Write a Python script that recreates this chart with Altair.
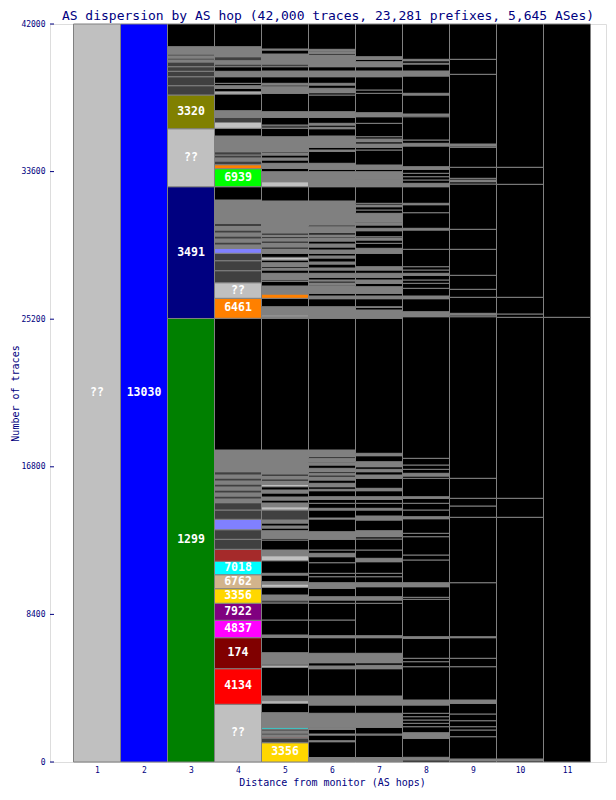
import altair as alt
import pandas as pd

TITLE = "AS dispersion by AS hop (42,000 traces, 23,281 prefixes, 5,645 ASes)"
HOPS = list(range(1, 12))
Y_TICKS = [0, 8400, 16800, 25200, 33600, 42000]

# Each column: segment kinds (bottom -> top) and cumulative top (number of traces)
# kinds: AS number / "??" unknown / "g" small ASes / "d" small ASes (dark) /
#        "s", "b" unlabeled ASes / "-" traces that ended
c1_kind = ["??"]
c1_top = [42000]
c2_kind = ["13030"]
c2_top = [42000]
c3_kind = ["1299", "3491", "??", "3320", "d", "d", "d", "d", "d", "g", "d", "g", "d", "g", "-"]
c3_top = [25240, 32740, 36040, 37960, 38490, 39000, 39310, 39570, 39840, 39950, 40065, 40180, 40290, 40710, 42000]
c4_kind = ["??", "4134", "174", "4837", "7922", "3356", "6762", "7018", "b", "d", "d", "s", "d", "d",
           "g", "d", "g", "d", "g", "d", "g", "d", "g", "d", "g", "-",
           "6461", "??", "d", "d", "d", "s", "g", "d", "g", "d", "g", "d", "g", "d", "g", "-",
           "6939", "6461", "d", "g", "d", "d", "g", "-", "??", "d", "g", "-", "??", "-", "g", "-", "-",
           "g", "-", "d", "g", "d", "g", "-"]
c4_top = [3284, 5310, 7074, 8064, 9032, 9863, 10659, 11422, 12105, 12674, 13220, 13812, 14341, 14757,
          14967, 15138, 15309, 15480, 15650, 15821, 15992, 16162, 16333, 16521, 17756, 25251,
          26389, 27277, 27960, 28529, 28950, 29235, 29422, 29593, 29764, 29935, 30105, 30276, 30475, 30657, 31983, 32740,
          33765, 33993, 34203, 34374, 34544, 34732, 35626, 36064, 36394, 36690, 37066, 38016, 38147, 38340, 38489, 38624, 39000,
          39308, 39570, 39723, 39911, 40138, 40708, 42000]
c5_kind = ["3356", "d", "b", "g", "d", "g", "d", "7018", "g", "-", "??", "g", "-", "??", "d", "g", "-", "g", "-", "-",
           "d", "g", "-", "??", "g", "-", "g", "-", "??", "g", "-", "-", "g", "-", "g", "-", "g", "d", "??", "g",
           "-", "g", "-", "g", "-", "??", "g", "-", "g", "-", "g", "-",
           "g", "??", "g", "-", "6461", "g", "-", "d", "g", "-", "g", "-", "g", "-", "??", "-", "g", "-", "g", "-",
           "g", "-", "g", "-", "g", "-", "??", "g", "-", "g", "-", "g", "-", "g", "-", "g", "-", "d", "-", "g",
           "-", "g", "-", "g", "-", "g", "-", "d", "g", "-", "g", "-"]
c5_top = [1098, 1366, 1423, 1537, 1650, 1764, 1878, 1975, 2806, 3341, 3489, 3756, 5389, 5503, 5577, 6220, 7097, 7228, 8081, 9049,
          9219, 9504, 9942, 10130, 10261, 10642, 10739, 11456, 11741, 12065, 12634, 12731, 13163, 13317, 13431, 13601, 13772, 14341, 14529, 14740,
          14910, 15081, 15309, 15480, 15667, 15804, 15992, 16106, 16276, 16390, 17756, 25251,
          25342, 25439, 25911, 26389, 26634, 27089, 27357, 27470, 27812, 28000, 28085, 28188, 28415, 28569, 28722, 28950, 29195, 29309, 29536, 29650,
          29804, 29895, 29992, 30105, 31927, 32740, 33025, 33594, 33787, 34072, 34260, 34374, 34544, 34658, 34732, 35586, 36064, 36252, 36690, 37010,
          38056, 38431, 38528, 38624, 39000, 39325, 39570, 39723, 40292, 40520, 40577, 42000]
c6_kind = ["g", "-", "g", "-", "??", "-", "g", "-", "g", "-", "g", "-", "g", "-", "g", "-", "g", "-", "-", "-",
           "g", "-", "g", "-", "-", "-", "-", "g", "-", "-", "g", "-", "??", "-", "g", "-", "-", "g", "-", "g",
           "-", "g", "-", "g", "-", "g", "-", "g", "-", "g", "-", "g", "-", "g", "-",
           "g", "-", "g", "-", "g", "-", "g", "-", "g", "-", "g", "-", "g", "-", "g", "-", "g", "-", "g", "-",
           "g", "-", "g", "-", "g", "-", "g", "-", "g", "-", "g", "-", "g", "-", "g", "-", "g", "-", "g", "-",
           "g", "-", "g", "-", "-", "g", "-", "g", "-", "g", "-", "g", "-", "g", "-", "g", "-"]
c6_top = [256, 1155, 1212, 1537, 1593, 1850, 1906, 1975, 2772, 3244, 3756, 5310, 5463, 5651, 6186, 7074, 7188, 8081, 9032, 9219,
          9407, 9885, 10204, 10545, 10739, 11342, 11684, 11877, 12065, 12674, 13107, 13829, 13886, 14341, 14438, 14723, 14950, 15098, 15440, 15519,
          15667, 15861, 16049, 16219, 16333, 16430, 16521, 16714, 16902, 17033, 17090, 17283, 17374, 17756, 25251,
          25911, 26367, 26520, 26674, 27089, 27146, 27260, 27374, 27431, 27584, 27812, 28000, 28114, 28341, 28455, 28683, 28797, 28950, 29138, 29309,
          29479, 29650, 29821, 29895, 29992, 30122, 30464, 30561, 31927, 32740, 33594, 33731, 34072, 34755, 34829, 34983, 35626, 36041, 36120, 36252,
          36348, 36690, 37010, 37959, 38090, 38340, 38528, 38624, 39000, 39325, 39570, 40235, 40332, 40424, 40480, 40559, 42000]
c7_kind = ["g", "-", "d", "-", "g", "-", "g", "-", "g", "-", "g", "-", "g", "-", "-", "g", "-", "g", "-", "-",
           "-", "g", "-", "-", "-", "g", "-", "g", "-", "g", "-", "-", "g", "-", "g", "-", "g", "-", "g", "-",
           "g", "-", "g", "-", "g", "-", "g", "-", "g", "-", "g", "-", "g", "-", "g", "-", "g", "-", "g", "-",
           "-", "g", "-", "-", "g", "-", "g", "-", "g", "-", "-", "g", "-", "-", "g", "-", "g", "-", "g", "-",
           "-", "g", "-", "g", "-", "-", "-", "g", "-", "-", "-", "g", "-", "g", "-", "g", "-"]
c7_top = [256, 1537, 1593, 1975, 2772, 3244, 3756, 5310, 5503, 5651, 6186, 7074, 7188, 9032, 9219, 9407, 9976, 10204, 10545, 10739,
          11399, 11592, 12065, 12691, 12822, 13163, 13772, 14000, 14341, 14438, 14723, 14950, 15098, 15440, 15576, 16145, 16333, 16521, 16657, 16806,
          17090, 17432, 17568, 25251, 25723, 25877, 25911, 26367, 26520, 26674, 27050, 27243, 27431, 27584, 27812, 28000, 28188, 28950, 29235, 29519,
          29707, 29821, 29895, 30236, 30373, 30561, 30692, 30748, 31226, 31414, 31602, 31699, 31796, 32740, 33122, 33161, 33594, 33731, 33975, 34829,
          34983, 35170, 35301, 35455, 35586, 36348, 36724, 36952, 38056, 38244, 39000, 39325, 39570, 39854, 39991, 40138, 42000]
c8_kind = ["-", "g", "-", "g", "-", "-", "-", "-", "-", "-", "g", "-", "-", "-", "-", "g", "-", "-", "-", "g",
           "-", "-", "-", "-", "-", "g", "-", "-", "-", "g", "-", "-", "g", "-", "-", "-", "-", "g", "-", "g",
           "-", "-", "-", "-", "g", "-", "-", "-", "-", "g", "-", "-", "g", "-", "g", "-", "-", "-", "-", "g",
           "-", "g", "-", "-", "-", "g", "-", "g", "-", "g", "-", "g", "-", "g", "-"]
c8_top = [114, 267, 1349, 1667, 2009, 2202, 2390, 2578, 2772, 3244, 3528, 5424, 5708, 5902, 7040, 7131, 9259, 9373, 9976, 10204,
          11496, 11780, 12822, 13015, 13846, 13960, 14341, 14723, 15007, 15098, 16145, 16276, 16430, 16657, 16902, 17283, 25342, 25627, 26367, 26520,
          26958, 27243, 27431, 27698, 27812, 28000, 28188, 29178, 30276, 30373, 31261, 31716, 31796, 32740, 32934, 33122, 33310, 33503, 33731, 33879,
          35057, 35210, 35398, 36724, 36804, 36878, 37959, 38056, 39040, 39325, 39723, 39763, 39911, 39991, 42000]
c9_kind = ["-", "g", "-", "-", "-", "-", "-", "-", "g", "-", "-", "-", "g", "-", "-", "-", "-", "-", "-", "-",
           "g", "-", "-", "-", "-", "-", "-", "-", "g", "-", "-", "-", "-", "g", "-", "-", "-"]
c9_top = [74, 171, 1440, 1821, 2009, 2350, 2732, 3341, 3528, 5424, 5902, 7074, 7131, 10204, 13926, 14569, 15007, 16145, 25342, 25439,
          25535, 26446, 26901, 27698, 29178, 30316, 32894, 33025, 33122, 33218, 33845, 34983, 35057, 35170, 39137, 39991, 42000]
c10_kind = ["-", "g", "-", "-", "-", "-", "-", "-", "-", "-"]
c10_top = [74, 171, 13926, 15007, 25308, 25496, 26446, 32877, 33845, 42000]
c11_kind = ["-", "-"]
c11_top = [25308, 42000]

COLUMNS = [(c1_kind, c1_top), (c2_kind, c2_top), (c3_kind, c3_top), (c4_kind, c4_top),
           (c5_kind, c5_top), (c6_kind, c6_top), (c7_kind, c7_top), (c8_kind, c8_top),
           (c9_kind, c9_top), (c10_kind, c10_top), (c11_kind, c11_top)]

PALETTE = {
    "??": "#C0C0C0", "13030": "#0000FF", "1299": "#008000", "3491": "#000080",
    "3320": "#808000", "6939": "#00FF00", "6461": "#FF8000", "4134": "#FF0000",
    "174": "#800000", "4837": "#FF00FF", "7922": "#800080", "3356": "#FFD700",
    "6762": "#D2B48C", "7018": "#00FFFF", "b": "#A52A2A", "s": "#8080FF",
    "g": "#808080", "d": "#404040", "-": "#000000",
}
UNNAMED = {"g", "d", "-", "s", "b"}

rows = []
for hop, (kinds, tops) in zip(HOPS, COLUMNS):
    lo = 0
    for k, t in zip(kinds, tops):
        n = t - lo
        rows.append(dict(hop=hop, x0=hop - 0.5, x1=hop + 0.5, lo=lo, hi=t, mid=(lo + t) / 2,
                         kind=k, label=(k if (k not in UNNAMED and n >= 740) else "")))
        lo = t
df = pd.DataFrame(rows)

NAVY = "#000080"
FONT = "DejaVu Sans Mono"
PLOT_W = 556
PLOT_H = 738
xscale = alt.Scale(domain=[0, PLOT_W / 47], nice=False, zero=False)
yscale = alt.Scale(domain=[0, 42000], nice=False)

bars = alt.Chart(df).mark_rect(stroke="#808080", strokeWidth=1).encode(
    x=alt.X("x0:Q", scale=xscale,
            axis=alt.Axis(values=HOPS, format="d", title="Distance from monitor (AS hops)",
                          tickSize=0, domain=False, grid=False, labelFont=FONT, labelFontSize=8,
                          labelColor=NAVY, labelPadding=4, titleFont=FONT, titleFontSize=10,
                          titleFontWeight="normal", titleColor=NAVY, titleX=282, titleY=20,
                          titleBaseline="middle")),
    x2="x1:Q",
    y=alt.Y("lo:Q", scale=yscale,
            axis=alt.Axis(values=Y_TICKS, format="d", title="Number of traces", tickSize=0,
                          domain=False, grid=False, labelFont=FONT, labelFontSize=8,
                          labelColor=NAVY, labelPadding=5, titleFont=FONT, titleFontSize=10,
                          titleFontWeight="normal", titleColor=NAVY, titleX=-30, titleY=369,
                          titleBaseline="bottom")),
    y2="hi:Q",
    color=alt.Color("kind:N", scale=alt.Scale(domain=list(PALETTE.keys()), range=list(PALETTE.values())),
                    legend=None),
)

labels = alt.Chart(df).transform_filter(alt.datum.label != "").mark_text(
    color="white", font=FONT, fontSize=11.5, fontWeight="bold", baseline="middle", align="center"
).encode(
    x=alt.X("hop:Q", scale=xscale),
    y=alt.Y("mid:Q", scale=yscale),
    text="label:N",
)

ticks = alt.Chart(pd.DataFrame({"t": Y_TICKS})).mark_rule(color=NAVY, strokeWidth=1).encode(
    y=alt.Y("t:Q", scale=yscale),
    x=alt.value(0),
    x2=alt.value(4),
)

chart = alt.layer(bars, labels, ticks).properties(
    width=PLOT_W, height=PLOT_H,
    autosize=alt.AutoSizeParams(type="none"),
    padding={"left": 42, "top": 16, "right": 2, "bottom": 26},
    title=alt.TitleParams(TITLE, font=FONT, fontSize=13, fontWeight="normal", color=NAVY,
                          anchor="middle", offset=-3),
).configure_view(stroke=NAVY, strokeWidth=1).configure(background="white")

chart.save("out.html", embed_options={"renderer": "svg", "actions": False})
